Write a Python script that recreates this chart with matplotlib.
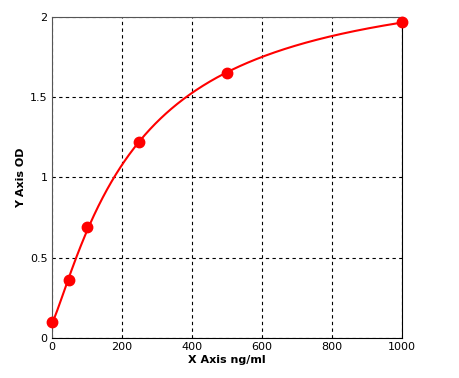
import numpy as np
import matplotlib.pyplot as plt

conc = [0, 50, 100, 250, 500, 1000]
od = [0.10, 0.36, 0.69, 1.22, 1.65, 1.97]


def fit_4pl(x, y):
    # grid search on slope/midpoint, linear least squares for the asymptotes
    x = np.asarray(x, float)
    y = np.asarray(y, float)
    best = None
    for b in np.linspace(0.5, 3.0, 126):
        for c in np.linspace(50, 2000, 391):
            g = 1.0 / (1.0 + (x / c) ** b)
            A = np.column_stack([g, 1 - g])
            coef, *_ = np.linalg.lstsq(A, y, rcond=None)
            err = np.sum((A @ coef - y) ** 2)
            if best is None or err < best[0]:
                best = (err, coef[0], b, c, coef[1])
    _, a, b, c, d = best
    return lambda t: d + (a - d) / (1.0 + (t / c) ** b)


f = fit_4pl(conc, od)
xs = np.linspace(0, 1000, 400)

fig = plt.figure(figsize=(4.59, 3.78), dpi=100)
ax = fig.add_axes([0.113, 0.106, 0.763, 0.849])

ax.plot(xs, f(xs), color="red", lw=1.5, zorder=3)
ax.plot(conc, od, "o", color="red", ms=7.5, zorder=4, clip_on=False)

ax.set_xlim(0, 1000)
ax.set_ylim(0, 2)
ax.set_xticks([0, 200, 400, 600, 800, 1000])
ax.set_yticks([0, 0.5, 1, 1.5, 2])
ax.set_yticklabels(["0", "0.5", "1", "1.5", "2"])
ax.grid(True, color="black", linestyle=(0, (3, 3)), lw=0.8)
ax.tick_params(length=0, labelsize=8, pad=3)

for s in ["left", "top"]:
    ax.spines[s].set_color("#555555")
for s in ["right", "bottom"]:
    ax.spines[s].set_color("black")

ax.set_xlabel("X Axis ng/ml", fontsize=8, fontweight="bold", labelpad=2)
ax.set_ylabel("Y Axis OD", fontsize=8, fontweight="bold", labelpad=0)
ax.yaxis.set_label_coords(-0.075, 0.5)

fig.savefig("out.png", dpi=100)
